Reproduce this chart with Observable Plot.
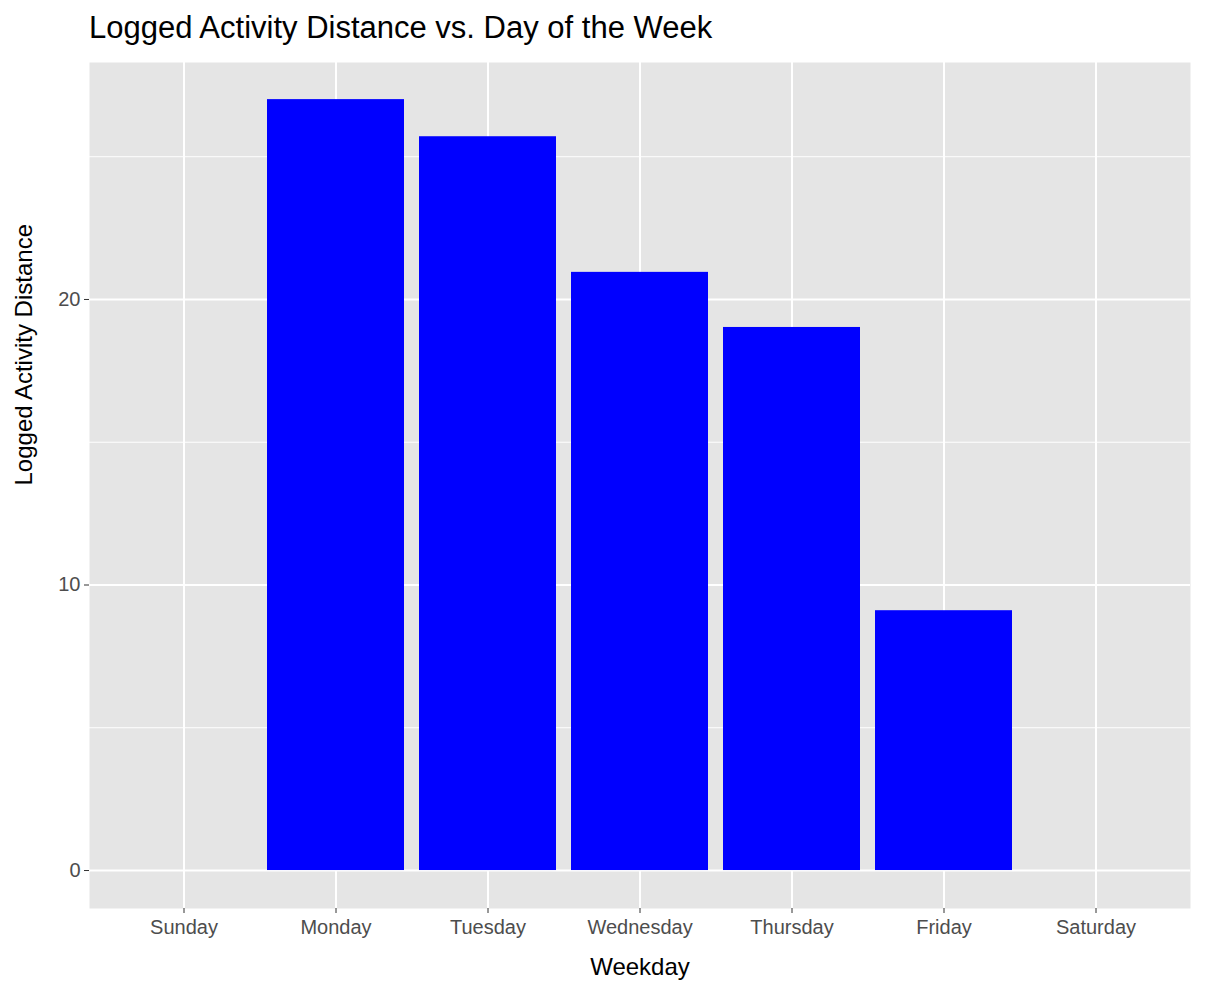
<!DOCTYPE html>
<html>
<head>
<meta charset="utf-8">
<script src="https://cdn.jsdelivr.net/npm/d3@7"></script>
<script src="https://cdn.jsdelivr.net/npm/@observablehq/plot@0.6"></script>
<style>
  body { margin: 0; background: #fff; font-family: "Liberation Sans", Arial, sans-serif; }
  #title { height: 50px; font-size: 31px; padding-left: 89px; line-height: 56px; color: #000; }
</style>
</head>
<body>
<div id="title">Logged Activity Distance vs. Day of the Week</div>
<div id="chart"></div>
<script>
const days = ["Sunday", "Monday", "Tuesday", "Wednesday", "Thursday", "Friday", "Saturday"];
const distance = [0, 27.0, 25.7, 20.95, 19.02, 9.1, 0];
const majorTicks = [0, 10, 20];
const minorTicks = [5, 15, 25];

const data = days.map((d, i) => ({ day: d, value: distance[i] }));

const chart = Plot.plot({
  width: 1206,
  height: 942,
  marginTop: 12,
  marginBottom: 84,
  marginLeft: 89,
  marginRight: 16,
  style: { fontFamily: "Liberation Sans, Arial, sans-serif", fontSize: "20px", color: "#4d4d4d" },
  x: { domain: days, paddingInner: 0.1, paddingOuter: 0.15, label: null },
  y: { domain: [-1.33, 28.3], label: null },
  marks: [
    Plot.frame({ fill: "#e5e5e5", stroke: "none" }),
    Plot.ruleY(minorTicks, { stroke: "#fff", strokeWidth: 1 }),
    Plot.ruleY(majorTicks, { stroke: "#fff", strokeWidth: 2 }),
    Plot.ruleX(days, { x: d => d, stroke: "#fff", strokeWidth: 2 }),
    Plot.barY(data.filter(d => d.value > 0), { x: "day", y: "value", fill: "#0000ff" }),
    Plot.axisY(majorTicks, { tickSize: 5, tickPadding: 4, stroke: "#333", fill: "#4d4d4d", fontSize: 20, label: null }),
    Plot.axisX({ tickSize: 5, tickPadding: 6, stroke: "#333", fill: "#4d4d4d", fontSize: 20, label: null }),
    Plot.text(["Weekday"], { frameAnchor: "bottom", dy: 66, text: d => d, fontSize: 24, fill: "#000" }),
    Plot.text(["Logged Activity Distance"], { frameAnchor: "left", dx: -65, rotate: -90, text: d => d, fontSize: 24, fill: "#000" })
  ]
});

document.getElementById("chart").append(chart);
</script>
</body>
</html>
